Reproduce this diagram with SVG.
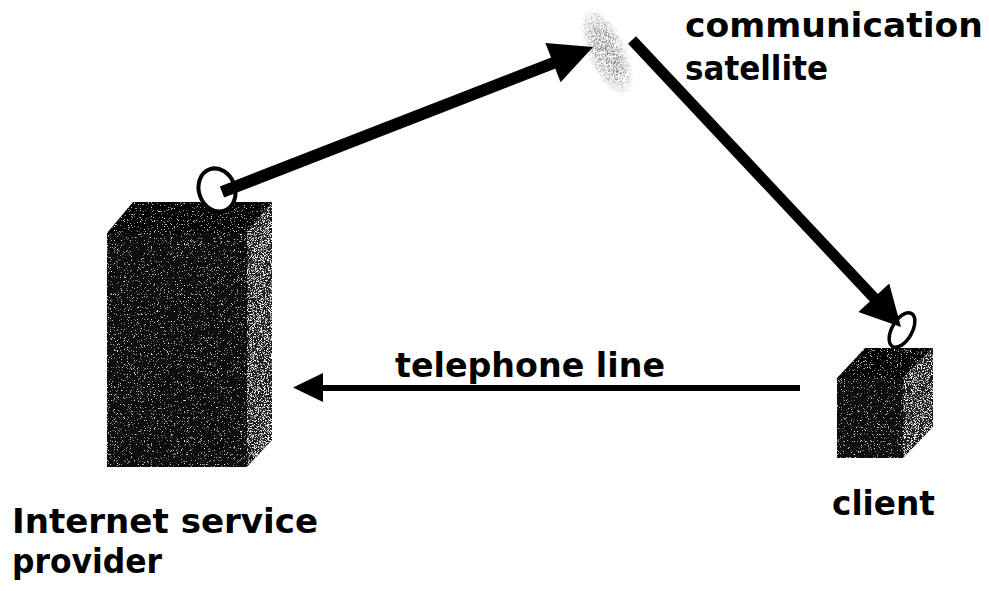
<svg xmlns="http://www.w3.org/2000/svg" width="989" height="591" viewBox="0 0 989 591">
  <style>
    .lbl { font-family: "DejaVu Sans", Verdana, sans-serif; font-weight: bold; font-size: 34px; fill: #000; }
    .dish { fill: #fff; stroke: #000; stroke-width: 4; }
    .shaft { stroke: #000; stroke-linecap: butt; fill: none; }
    .head { fill: #000; }
  </style>
  <defs>
    <!-- speckled print texture for the dark boxes -->
    <filter id="grain" x="0" y="0" width="1" height="1">
      <feTurbulence type="fractalNoise" baseFrequency="1.3" numOctaves="1" seed="7" result="n"/>
      <feColorMatrix in="n" type="matrix" values="0 0 0 0 1  0 0 0 0 1  0 0 0 0 1  7 0 0 0 -4.4" result="sp"/>
      <feComposite in="sp" in2="SourceGraphic" operator="in" result="spk"/>
      <feMerge><feMergeNode in="SourceGraphic"/><feMergeNode in="spk"/></feMerge>
    </filter>
    <filter id="grainLight" x="0" y="0" width="1" height="1">
      <feTurbulence type="fractalNoise" baseFrequency="1.3" numOctaves="1" seed="11" result="n"/>
      <feColorMatrix in="n" type="matrix" values="0 0 0 0 1  0 0 0 0 1  0 0 0 0 1  7 0 0 0 -3.6" result="sp"/>
      <feComposite in="sp" in2="SourceGraphic" operator="in" result="spk"/>
      <feMerge><feMergeNode in="SourceGraphic"/><feMergeNode in="spk"/></feMerge>
    </filter>
    <!-- sparse dots for the faint satellite -->
    <filter id="haze" x="-0.2" y="-0.2" width="1.4" height="1.4">
      <feTurbulence type="fractalNoise" baseFrequency="1.1" numOctaves="1" seed="3" result="n"/>
      <feColorMatrix in="n" type="matrix" values="0 0 0 0 0.15  0 0 0 0 0.15  0 0 0 0 0.15  9 0 0 0 -4.3" result="d"/>
      <feComposite in="d" in2="SourceGraphic" operator="in"/>
    </filter>
    <radialGradient id="fade">
      <stop offset="0" stop-color="#000" stop-opacity="1"/>
      <stop offset="0.55" stop-color="#000" stop-opacity="0.8"/>
      <stop offset="1" stop-color="#000" stop-opacity="0"/>
    </radialGradient>
  </defs>

  <rect width="989" height="591" fill="#fff"/>

  <!-- Internet service provider: tall box with dish -->
  <g id="isp">
    <polygon points="107,233 247,233 247,467 107,467" fill="#111" filter="url(#grain)"/>
    <polygon points="107,233 247,233 272,202 133,202" fill="#050505" filter="url(#grain)"/>
    <polygon points="247,233 272,202 272,440 247,467" fill="#1e1e1e" filter="url(#grainLight)"/>
    <ellipse class="dish" cx="217" cy="190" rx="18" ry="22" transform="rotate(-20 217 190)"/>
    <text class="lbl" x="12" y="533" textLength="306" lengthAdjust="spacingAndGlyphs">Internet service</text>
    <text class="lbl" x="12" y="573" textLength="150" lengthAdjust="spacingAndGlyphs">provider</text>
  </g>

  <!-- communication satellite -->
  <g id="satellite">
    <ellipse cx="607" cy="52" rx="20" ry="48" fill="url(#fade)" filter="url(#haze)" transform="rotate(-24 607 52)"/>
    <text class="lbl" x="685" y="37" textLength="298" lengthAdjust="spacingAndGlyphs">communication</text>
    <text class="lbl" x="685" y="80" textLength="143" lengthAdjust="spacingAndGlyphs">satellite</text>
  </g>

  <!-- client: small box with dish -->
  <g id="client">
    <polygon points="837,378 903,378 903,458 837,458" fill="#111" filter="url(#grain)"/>
    <polygon points="837,378 903,378 933,348 865,348" fill="#050505" filter="url(#grain)"/>
    <polygon points="903,378 933,348 933,427 903,458" fill="#1e1e1e" filter="url(#grainLight)"/>
    <ellipse class="dish" cx="902" cy="330" rx="10" ry="19" transform="rotate(30 902 330)" style="stroke-width:3.5"/>
    <text class="lbl" x="832" y="515" textLength="103" lengthAdjust="spacingAndGlyphs">client</text>
  </g>

  <!-- links -->
  <g id="connectors">
    <!-- uplink: ISP to satellite -->
    <line class="shaft" x1="222" y1="192" x2="556" y2="62" stroke-width="12"/>
    <polygon class="head" points="593,47 545.4,43 560.6,82.2"/>
    <!-- downlink: satellite to client -->
    <line class="shaft" x1="632" y1="40" x2="876" y2="300" stroke-width="11"/>
    <polygon class="head" points="901,327 889.2,283.4 858.4,312"/>
    <!-- telephone line: client back to ISP -->
    <line class="shaft" x1="800" y1="388" x2="320" y2="388" stroke-width="6"/>
    <polygon class="head" points="293,387.5 323,373 323,402"/>
    <text class="lbl" x="395" y="377" textLength="270" lengthAdjust="spacingAndGlyphs">telephone line</text>
  </g>
</svg>
